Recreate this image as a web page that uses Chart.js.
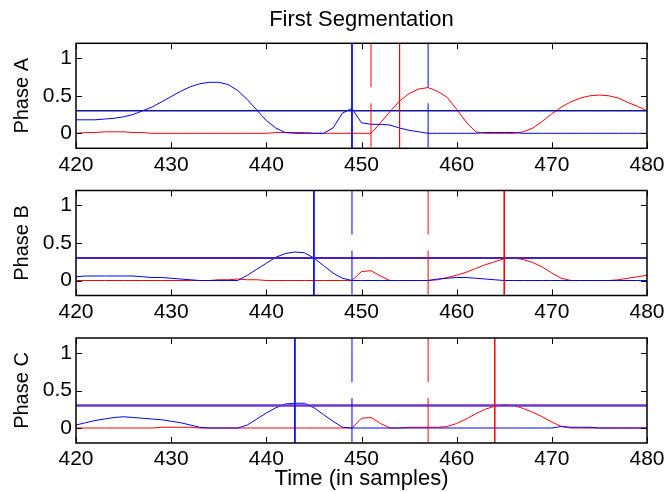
<!DOCTYPE html>
<html>
<head>
<meta charset="utf-8">
<title>First Segmentation</title>
<script src="https://cdn.jsdelivr.net/npm/chart.js@4/dist/chart.umd.min.js"></script>
<style>
  html, body { margin: 0; padding: 0; background: #fff; }
  #wrap { position: relative; width: 667px; height: 492px; overflow: hidden; }
  canvas { position: absolute; left: 0; }
</style>
</head>
<body>
<div id="wrap">
  <canvas id="phaseA" width="667" height="175" style="top:0px"></canvas>
  <canvas id="phaseB" width="667" height="147" style="top:175px"></canvas>
  <canvas id="phaseC" width="667" height="170" style="top:322px"></canvas>
</div>
<script>
// ── Data ────────────────────────────────────────────────────────
const samples = [420, 421, 422, 423, 424, 425, 426, 427, 428, 429,
                 430, 431, 432, 433, 434, 435, 436, 437, 438, 439,
                 440, 441, 442, 443, 444, 445, 446, 447, 448, 449,
                 450, 451, 452, 453, 454, 455, 456, 457, 458, 459,
                 460, 461, 462, 463, 464, 465, 466, 467, 468, 469,
                 470, 471, 472, 473, 474, 475, 476, 477, 478, 479, 480];

const xTicks = [420, 430, 440, 450, 460, 470, 480];
const yTicks = [0, 0.5, 1];
const threshold = 0.3;

// Phase A
const blueA = [0.18, 0.18, 0.18, 0.19, 0.20, 0.22, 0.25, 0.30, 0.35, 0.42,
               0.49, 0.56, 0.62, 0.66, 0.68, 0.68, 0.65, 0.57, 0.45, 0.31,
               0.17, 0.07, 0.01, 0.00, 0.00, 0.00, 0.00, 0.07, 0.27, 0.33,
               0.14, 0.12, 0.12, 0.11, 0.07, 0.04, 0.02, 0.00, 0.00, 0.00,
               0.00, 0.00, 0.00, 0.01, 0.01, 0.01, 0.01, 0.00, 0.00, 0.00,
               0.00, 0.00, 0.00, 0.00, 0.00, 0.00, 0.00, 0.00, 0.00, 0.00, 0.00];
const redA  = [0.00, 0.01, 0.01, 0.02, 0.02, 0.02, 0.01, 0.01, 0.00, 0.00,
               0.00, 0.00, 0.00, 0.00, 0.00, 0.00, 0.00, 0.00, 0.00, 0.00,
               0.00, 0.01, 0.01, 0.01, 0.01, 0.00, 0.00, 0.00, 0.00, 0.00,
               0.00, 0.00, 0.14, 0.29, 0.43, 0.53, 0.59, 0.61, 0.56, 0.48,
               0.32, 0.15, 0.02, 0.00, 0.00, 0.00, 0.00, 0.02, 0.07, 0.16,
               0.26, 0.35, 0.42, 0.47, 0.50, 0.51, 0.50, 0.47, 0.41, 0.36, 0.30];

// Phase B
const blueB = [0.05, 0.06, 0.06, 0.06, 0.06, 0.06, 0.06, 0.05, 0.04, 0.04,
               0.03, 0.02, 0.01, 0.00, 0.00, 0.00, 0.00, 0.00, 0.07, 0.15,
               0.23, 0.31, 0.36, 0.38, 0.37, 0.30, 0.20, 0.10, 0.03, 0.00,
               0.00, 0.00, 0.00, 0.00, 0.00, 0.00, 0.00, 0.00, 0.02, 0.03,
               0.04, 0.04, 0.03, 0.02, 0.01, 0.00, 0.00, 0.00, 0.00, 0.00,
               0.00, 0.00, 0.00, 0.00, 0.00, 0.00, 0.00, 0.00, 0.00, 0.00, 0.00];
const redB  = [0.00, 0.00, 0.00, 0.00, 0.00, 0.00, 0.00, 0.00, 0.00, 0.00,
               0.00, 0.00, 0.00, 0.00, 0.00, 0.01, 0.01, 0.02, 0.01, 0.01,
               0.00, 0.00, 0.00, 0.00, 0.00, 0.00, 0.00, 0.00, 0.00, 0.00,
               0.12, 0.13, 0.06, 0.00, 0.00, 0.00, 0.00, 0.00, 0.01, 0.04,
               0.07, 0.11, 0.16, 0.21, 0.25, 0.29, 0.30, 0.28, 0.24, 0.18,
               0.10, 0.03, 0.00, 0.00, 0.00, 0.00, 0.00, 0.01, 0.03, 0.05, 0.07];

// Phase C
const blueC = [0.04, 0.07, 0.10, 0.12, 0.14, 0.15, 0.14, 0.13, 0.12, 0.11,
               0.09, 0.07, 0.04, 0.01, 0.00, 0.00, 0.00, 0.00, 0.04, 0.12,
               0.20, 0.27, 0.32, 0.33, 0.33, 0.27, 0.18, 0.09, 0.01, 0.00,
               0.00, 0.00, 0.00, 0.00, 0.00, 0.00, 0.00, 0.00, 0.00, 0.00,
               0.00, 0.00, 0.00, 0.00, 0.00, 0.00, 0.00, 0.00, 0.00, 0.00,
               0.00, 0.02, 0.01, 0.01, 0.01, 0.00, 0.00, 0.00, 0.00, 0.00, 0.00];
const redC  = [0.00, 0.00, 0.00, 0.00, 0.00, 0.00, 0.00, 0.00, 0.00, 0.01,
               0.01, 0.01, 0.01, 0.00, 0.00, 0.00, 0.00, 0.00, 0.00, 0.00,
               0.00, 0.00, 0.00, 0.00, 0.00, 0.00, 0.00, 0.00, 0.00, 0.00,
               0.13, 0.14, 0.06, 0.00, 0.00, 0.01, 0.01, 0.01, 0.01, 0.02,
               0.06, 0.12, 0.19, 0.25, 0.29, 0.31, 0.30, 0.26, 0.21, 0.15,
               0.08, 0.02, 0.00, 0.00, 0.00, 0.00, 0.00, 0.00, 0.00, 0.00, 0.00];

// Segmentation marks per phase (A, B, C)
const blueOnset  = [449, 445, 443];
const blueOffset = [457, 449, 449];
const redOnset   = [451, 457, 457];
const redOffset  = [454, 465, 464];

// ── Styling ─────────────────────────────────────────────────────
const X_MIN = 420, X_MAX = 480, Y_MIN = -0.2, Y_MAX = 1.2;
const BLUE = '#0000ff', RED = '#ff0000';
const FONT = "'Liberation Sans', Arial, Helvetica, sans-serif";
const MARK_DASH = [44, 16];

function series(values) {
  return samples.map((t, i) => ({ x: t, y: values[i] }));
}

function vline(t, color, dash) {
  return {
    data: [{ x: t, y: Y_MAX }, { x: t, y: Y_MIN }],
    borderColor: color, borderWidth: 1, borderDash: dash
  };
}

function hline(v, color, width) {
  return {
    data: [{ x: X_MIN, y: v }, { x: X_MAX, y: v }],
    borderColor: color, borderWidth: width
  };
}

// Box frame with inward ticks, MATLAB style
const framePlugin = {
  id: 'frame',
  afterDatasetsDraw(chart) {
    const { ctx, chartArea: a, scales: { x, y } } = chart;
    const len = 6;
    ctx.save();
    ctx.strokeStyle = '#000';
    ctx.lineWidth = 1;
    ctx.beginPath();
    x.ticks.forEach(t => {
      const px = Math.round(x.getPixelForValue(t.value)) + 0.5;
      ctx.moveTo(px, a.bottom); ctx.lineTo(px, a.bottom - len);
      ctx.moveTo(px, a.top); ctx.lineTo(px, a.top + len);
    });
    y.ticks.forEach(t => {
      const py = Math.round(y.getPixelForValue(t.value)) + 0.5;
      ctx.moveTo(a.left, py); ctx.lineTo(a.left + len, py);
      ctx.moveTo(a.right, py); ctx.lineTo(a.right - len, py);
    });
    ctx.stroke();
    ctx.lineWidth = 1.5;
    ctx.strokeRect(a.left, a.top, a.right - a.left, a.bottom - a.top);
    ctx.restore();
  }
};

function makePanel(id, idx, cfg) {
  const datasets = [
    vline(blueOnset[idx], BLUE, []),
    vline(blueOffset[idx], BLUE, MARK_DASH),
    vline(redOnset[idx], RED, MARK_DASH),
    vline(redOffset[idx], RED, []),
    hline(threshold, cfg.thrColor, cfg.thrWidth),
    { data: series(cfg.blue), borderColor: BLUE, borderWidth: 1 },
    { data: series(cfg.red), borderColor: RED, borderWidth: 1 }
  ];

  return new Chart(document.getElementById(id), {
    type: 'line',
    data: { datasets },
    options: {
      responsive: false,
      animation: false,
      events: [],
      layout: { padding: { top: cfg.padTop, right: 20, bottom: 0, left: 0 } },
      elements: { point: { radius: 0 }, line: { tension: 0 } },
      plugins: {
        legend: { display: false },
        tooltip: { enabled: false },
        title: cfg.title ? {
          display: true, text: cfg.title, color: '#000', fullSize: false,
          font: { family: FONT, size: 22, weight: 'normal' },
          padding: { top: 6.8, bottom: 10.1 }
        } : { display: false }
      },
      scales: {
        x: {
          type: 'linear', min: X_MIN, max: X_MAX,
          grid: { display: false, drawTicks: false }, border: { display: false },
          afterBuildTicks: s => { s.ticks = xTicks.map(v => ({ value: v })); },
          afterFit: s => { s.height = cfg.xHeight; s.paddingLeft = 0; s.paddingRight = 0; },
          ticks: {
            color: '#000', padding: 4, maxRotation: 0, autoSkip: false,
            font: { family: FONT, size: 21 },
            callback: v => String(v)
          },
          title: cfg.xTitle ? {
            display: true, text: cfg.xTitle, color: '#000',
            font: { family: FONT, size: 22 },
            padding: { top: 0, bottom: 0 }
          } : { display: false }
        },
        y: {
          type: 'linear', min: Y_MIN, max: Y_MAX,
          grid: { display: false, drawTicks: false }, border: { display: false },
          afterBuildTicks: s => { s.ticks = yTicks.map(v => ({ value: v })); },
          afterFit: s => { s.width = 76; s.paddingTop = 0; s.paddingBottom = 0; },
          ticks: {
            color: '#000', padding: 4,
            font: { family: FONT, size: 21 },
            callback: v => String(v)
          },
          title: {
            display: true, text: cfg.yTitle, color: '#000',
            font: { family: FONT, size: 20 },
            padding: { top: 10.5, bottom: 0 }
          }
        }
      }
    },
    plugins: [framePlugin]
  });
}

makePanel('phaseA', 0, {
  title: 'First Segmentation', yTitle: 'Phase A',
  blue: blueA, red: redA, padTop: 0, xHeight: 26.7,
  thrColor: '#14149c', thrWidth: 1.5
});
makePanel('phaseB', 1, {
  yTitle: 'Phase B',
  blue: blueB, red: redB, padTop: 15.5, xHeight: 26.5,
  thrColor: '#4a20b8', thrWidth: 2
});
makePanel('phaseC', 2, {
  yTitle: 'Phase C', xTitle: 'Time (in samples)',
  blue: blueC, red: redC, padTop: 16, xHeight: 49,
  thrColor: '#7034d0', thrWidth: 2.5
});
</script>
</body>
</html>
